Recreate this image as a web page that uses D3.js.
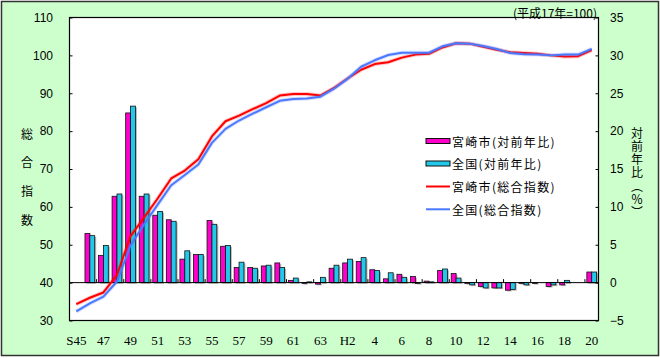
<!DOCTYPE html>
<html><head><meta charset="utf-8">
<script src="https://cdn.jsdelivr.net/npm/d3@7"></script>
<style>
html,body{margin:0;padding:0;background:#fff;}
svg{display:block;}
</style>
</head><body>
<svg id="chart" width="660" height="358"></svg>
<script>
// ---- data ----
const categories = ["S45","S46","S47","S48","S49","S50","S51","S52","S53","S54","S55","S56","S57","S58","S59","S60","S61","S62","S63",
  "H1","H2","H3","H4","H5","H6","H7","H8","H9","H10","H11","H12","H13","H14","H15","H16","H17","H18","H19","H20"];
const xTickCats = ["S45","S47","S49","S51","S53","S55","S57","S59","S61","S63","H2","H4","H6","H8","H10","H12","H14","H16","H18","H20"];
const xTickLabels = ["S45","47","49","51","53","55","57","59","61","63","H2","4","6","8","10","12","14","16","18","20"];
const leftTicks = [30,40,50,60,70,80,90,100,110];
const rightTicks = [-5,0,5,10,15,20,25,30,35];
// 対前年比 (%) : S45 has no bar
const miyazakiYoY = [null,6.5,3.6,11.4,22.4,11.4,8.9,8.3,3.1,3.7,8.2,4.8,2.0,2.0,2.2,2.6,0.3,-0.1,-0.2,
  1.9,2.6,2.8,1.7,0.5,1.1,0.8,0.2,1.6,1.2,-0.1,-0.5,-0.7,-1.0,-0.1,-0.1,-0.5,-0.3,0.0,1.4];
const zenkokuYoY = [null,6.2,4.9,11.7,23.3,11.7,9.4,8.1,4.2,3.7,7.7,4.9,2.7,1.9,2.3,2.0,0.6,0.1,0.7,
  2.3,3.1,3.3,1.6,1.3,0.7,-0.1,0.1,1.8,0.6,-0.3,-0.7,-0.7,-0.9,-0.3,0.0,-0.3,0.3,0.0,1.4];
// 総合指数 (平成17年=100)
const miyazakiIndex = [34.3,36.0,37.4,42.0,52.3,57.2,62.2,67.5,69.6,72.6,78.6,82.6,84.1,85.8,87.4,89.4,89.8,89.8,89.4,
  91.4,93.9,96.2,97.7,98.2,99.4,100.2,100.4,102.1,103.2,103.1,102.3,101.5,100.8,100.6,100.4,100.0,99.7,99.8,101.4];
const zenkokuIndex = [32.4,34.5,36.3,40.3,49.8,55.4,60.6,65.7,68.4,71.2,76.9,80.6,82.8,84.6,86.3,88.0,88.5,88.6,89.1,
  91.2,93.8,97.0,98.7,100.1,100.7,100.7,100.7,102.4,103.2,103.1,102.5,101.7,100.6,100.3,100.2,100.0,100.2,100.2,101.7];
const legendLabels = ["宮崎市(対前年比)","全国(対前年比)","宮崎市(総合指数)","全国(総合指数)"];

// ---- layout ----
const svg = d3.select("#chart");
const W = 660, H = 358;
const L = 69.5, R = 598.5, T = 17.5, B = 320.5;
const cjk = "'Noto Sans CJK JP','Noto Sans',sans-serif";

svg.append("rect").attr("x",0).attr("y",0).attr("width",W).attr("height",H).attr("fill","#fff");
svg.append("rect").attr("x",1.5).attr("y",1.5).attr("width",657).attr("height",354)
  .attr("fill","#ccffcc").attr("stroke","#333").attr("stroke-width",1.5);
svg.append("rect").attr("x",L).attr("y",T).attr("width",R-L).attr("height",B-T).attr("fill","#fff");

const x = d3.scaleBand().domain(categories).range([L,R]).padding(0);
const xi = d3.scaleBand().domain(["m","z"]).range([x.bandwidth()*0.14, x.bandwidth()*0.86]);
const yL = d3.scaleLinear().domain([30,110]).range([B,T]);
const yR = d3.scaleLinear().domain([-5,35]).range([B,T]);

// bars
const barData = [];
categories.forEach((c,i)=>{
  if (miyazakiYoY[i] !== null) barData.push({c, k:"m", v:miyazakiYoY[i]});
  if (zenkokuYoY[i] !== null) barData.push({c, k:"z", v:zenkokuYoY[i]});
});
const gb = svg.append("g");
gb.selectAll("rect.sh").data(barData).enter().append("rect")
  .attr("x", d=>x(d.c)+xi(d.k)+1.5)
  .attr("y", d=>Math.min(yR(d.v),yR(0))+1.2)
  .attr("width", xi.bandwidth())
  .attr("height", d=>Math.abs(yR(d.v)-yR(0)))
  .attr("fill","#9a9a9a").attr("opacity",0.7);
gb.selectAll("rect.bar").data(barData).enter().append("rect")
  .attr("x", d=>x(d.c)+xi(d.k))
  .attr("y", d=>Math.min(yR(d.v),yR(0)))
  .attr("width", xi.bandwidth())
  .attr("height", d=>Math.abs(yR(d.v)-yR(0)))
  .attr("fill", d=>d.k==="m" ? "#ff00cc" : "#22c8ea")
  .attr("stroke","#111").attr("stroke-width",0.8);

// baseline
svg.append("line").attr("x1",L).attr("x2",R).attr("y1",yR(0)).attr("y2",yR(0))
  .attr("stroke","#000").attr("stroke-width",1);
svg.append("g").selectAll("line").data(categories.filter((c,i)=>i%2===0)).enter().append("line")
  .attr("x1", d=>x(d)).attr("x2", d=>x(d))
  .attr("y1", yR(0)).attr("y2", yR(0)-3.5)
  .attr("stroke","#000").attr("stroke-width",1);

// lines
const line = (arr, scale) => d3.line().x((d,i)=>x(categories[i])+x.bandwidth()/2).y(d=>scale(d))(arr);
[[miyazakiIndex,"#ff0000"],[zenkokuIndex,"#4a78ff"]].forEach(([arr,col])=>{
  svg.append("path").attr("d", line(arr,yL)).attr("fill","none").attr("stroke",col)
    .attr("stroke-width",4).attr("stroke-opacity",0.22).attr("stroke-linejoin","round");
  svg.append("path").attr("d", line(arr,yL)).attr("fill","none").attr("stroke",col)
    .attr("stroke-width",2).attr("stroke-linejoin","round");
});

// plot border
svg.append("rect").attr("x",L).attr("y",T).attr("width",R-L).attr("height",B-T)
  .attr("fill","none").attr("stroke","#000").attr("stroke-width",1.2);

// axes
const axL = svg.append("g").attr("transform",`translate(${L},0)`)
  .call(d3.axisLeft(yL).tickValues(leftTicks).tickSizeInner(-3).tickSizeOuter(0).tickPadding(16.5));
const axR = svg.append("g").attr("transform",`translate(${R},0)`)
  .call(d3.axisRight(yR).tickValues(rightTicks).tickSizeInner(-3).tickSizeOuter(0).tickPadding(11.5));
const axB = svg.append("g").attr("transform",`translate(0,${B})`)
  .call(d3.axisBottom(x).tickValues(xTickCats).tickFormat(d=>xTickLabels[xTickCats.indexOf(d)]).tickSize(0).tickPadding(15));
[axL,axR,axB].forEach(a=>{ a.select(".domain").remove(); a.selectAll(".tick line").attr("stroke","#000"); });
axL.selectAll("text").attr("font-family","'Liberation Sans',Arial,sans-serif").attr("font-size",12).attr("fill","#000");
axR.selectAll("text").attr("font-family","'Liberation Sans',Arial,sans-serif").attr("font-size",12).attr("fill","#000");
axB.selectAll("text").attr("font-family","'Liberation Serif','Times New Roman',serif").attr("font-size",13).attr("fill","#000");
axR.selectAll(".tick").filter(d=>d===-5).select("text").text("−5");

// titles
svg.append("text").attr("x",597).attr("y",12).attr("text-anchor","end").attr("dominant-baseline","central")
  .attr("font-family",cjk).attr("font-size",12).text("(平成17年=100)");
const leftTitle = ["総","合","指","数"];
svg.append("g").selectAll("text").data(leftTitle).enter().append("text")
  .attr("x",27).attr("y",(d,i)=>133+i*28.7).attr("text-anchor","middle").attr("dominant-baseline","central")
  .attr("font-family",cjk).attr("font-size",12).text(d=>d);
// right title as one vertical text
svg.append("text").attr("x",637).attr("y",127)
  .attr("style","writing-mode:vertical-rl;text-orientation:upright;")
  .attr("font-family",cjk).attr("font-size",12).attr("letter-spacing",1.3)
  .text("対前年比（％）");

// legend
const legY = [141,163.5,186.5,209.3];
const lg = svg.append("g");
legendLabels.forEach((t,i)=>{
  if (i<2) {
    lg.append("rect").attr("x",426).attr("y",legY[i]-2.5).attr("width",24).attr("height",5)
      .attr("fill", i===0 ? "#ff00cc" : "#22c8ea").attr("stroke","#111").attr("stroke-width",1);
  } else {
    lg.append("line").attr("x1",426).attr("x2",450).attr("y1",legY[i]).attr("y2",legY[i])
      .attr("stroke", i===2 ? "#ff0000" : "#4a78ff").attr("stroke-width",2);
  }
  lg.append("text").attr("x",452).attr("y",legY[i]).attr("dominant-baseline","central")
    .attr("font-family",cjk).attr("font-size",12).attr("letter-spacing",1.3).text(t);
});
</script>
</body></html>
